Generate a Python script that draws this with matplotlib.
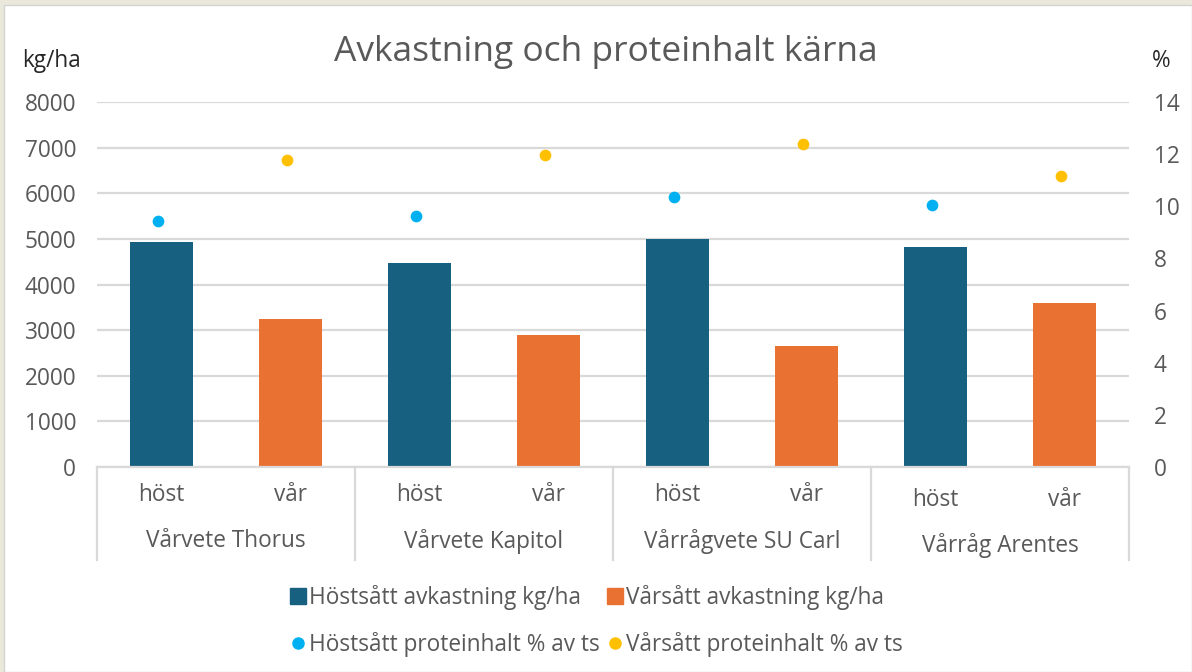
import numpy as np
import matplotlib
matplotlib.use('Agg')
import matplotlib.pyplot as plt
from matplotlib.patches import Rectangle
from matplotlib.lines import Line2D
from matplotlib.transforms import blended_transform_factory

plt.rcParams['font.family'] = ['Open Sans', 'DejaVu Sans']

# data
groups = ['Vårvete Thorus', 'Vårvete Kapitol', 'Vårrågvete SU Carl', 'Vårråg Arentes']
sow = ['höst', 'vår']
host_yield = [4940, 4470, 5000, 4820]
var_yield = [3240, 2890, 2660, 3595]
host_protein = [9.44, 9.64, 10.34, 10.04]
var_protein = [11.78, 11.97, 12.40, 11.17]

c_host = '#17607F'
c_var = '#E97132'
c_hp = '#00B0F0'
c_vp = '#FFC000'
txt = '#595959'
grid = '#D9D9D9'
fs = 16.3

fig = plt.figure(figsize=(11.92, 6.72), dpi=100)
fig.patch.set_facecolor('#EAE8DA')
fig.patches.append(Rectangle((4/1192, 0), 1 - 4/1192, 1 - 5/672, transform=fig.transFigure,
                             facecolor='white', edgecolor='#D4D4D4', lw=1, zorder=-10))

ax = fig.add_axes([97/1192, 1 - 467/672, 1032/1192, 365/672])
ax.set_facecolor('none')
ax2 = ax.twinx()

x = np.arange(len(groups))
xh = 2 * x
xv = 2 * x + 1
ax.bar(xh, host_yield, width=0.49, color=c_host, zorder=2, label='Höstsått avkastning kg/ha')
ax.bar(xv, var_yield, width=0.49, color=c_var, zorder=2, label='Vårsått avkastning kg/ha')
ax2.scatter(xh - 0.03, host_protein, s=55, color=c_hp, zorder=3, label='Höstsått proteinhalt % av ts')
ax2.scatter(xv - 0.03, var_protein, s=55, color=c_vp, zorder=3, label='Vårsått proteinhalt % av ts')

ax.set_xlim(-0.5, 7.5)
ax.set_ylim(0, 8000)
ax2.set_ylim(0, 14)
ax.set_yticks(range(0, 8001, 1000))
ax2.set_yticks(range(0, 15, 2))
ax.yaxis.grid(True, color=grid, lw=1.6, zorder=0)
ax.set_axisbelow(True)
for a in (ax, ax2):
    for s in a.spines.values():
        s.set_visible(False)
    a.tick_params(length=0, labelsize=fs, colors=txt)
ax.spines['bottom'].set_visible(True)
ax.spines['bottom'].set_color(grid)
ax.spines['bottom'].set_linewidth(1.6)
ax.set_xticks([])
ax.tick_params(axis='y', pad=15)
ax2.tick_params(axis='y', pad=18)

# multi-level category labels
tr = blended_transform_factory(ax.transData, ax.transAxes)
for i, g in enumerate(groups):
    off = -0.013 if i == 3 else 0
    ax.text(2 * i, -0.077 + off, sow[0], transform=tr, ha='center', va='center', fontsize=fs, color=txt)
    ax.text(2 * i + 1, -0.077 + off, sow[1], transform=tr, ha='center', va='center', fontsize=fs, color=txt)
    ax.text(2 * i + 0.5, -0.203 + off, g, transform=tr, ha='center', va='center', fontsize=fs, color=txt)
for b in [-0.5, 1.5, 3.5, 5.5, 7.5]:
    ax.plot([b, b], [0, -0.255], transform=tr, color=grid, lw=1.6, clip_on=False)

fig.text(0.508, 1 - 52/672, 'Avkastning och proteinhalt kärna', ha='center', va='center',
         fontsize=25.5, color=txt)
fig.text(22/1192, 1 - 61/672, 'kg/ha', ha='left', va='center', fontsize=fs, color='#262626')
fig.text(1161/1192, 1 - 61/672, '%', ha='center', va='center', fontsize=fs, color='#262626')

handles = [
    Line2D([], [], marker='s', ls='', color=c_host, markersize=11),
    Line2D([], [], marker='o', ls='', color=c_hp, markersize=8),
    Line2D([], [], marker='s', ls='', color=c_var, markersize=11),
    Line2D([], [], marker='o', ls='', color=c_vp, markersize=8),
]
labels = ['Höstsått avkastning kg/ha', 'Höstsått proteinhalt % av ts',
          'Vårsått avkastning kg/ha', 'Vårsått proteinhalt % av ts']
fig.legend(handles, labels, ncol=2, loc='center', bbox_to_anchor=(0.5, 1 - 621/672),
           frameon=False, fontsize=fs, labelcolor=txt, handletextpad=0.1,
           columnspacing=0.25, handlelength=0.8, labelspacing=0.95)

fig.savefig('out.png', dpi=100)
